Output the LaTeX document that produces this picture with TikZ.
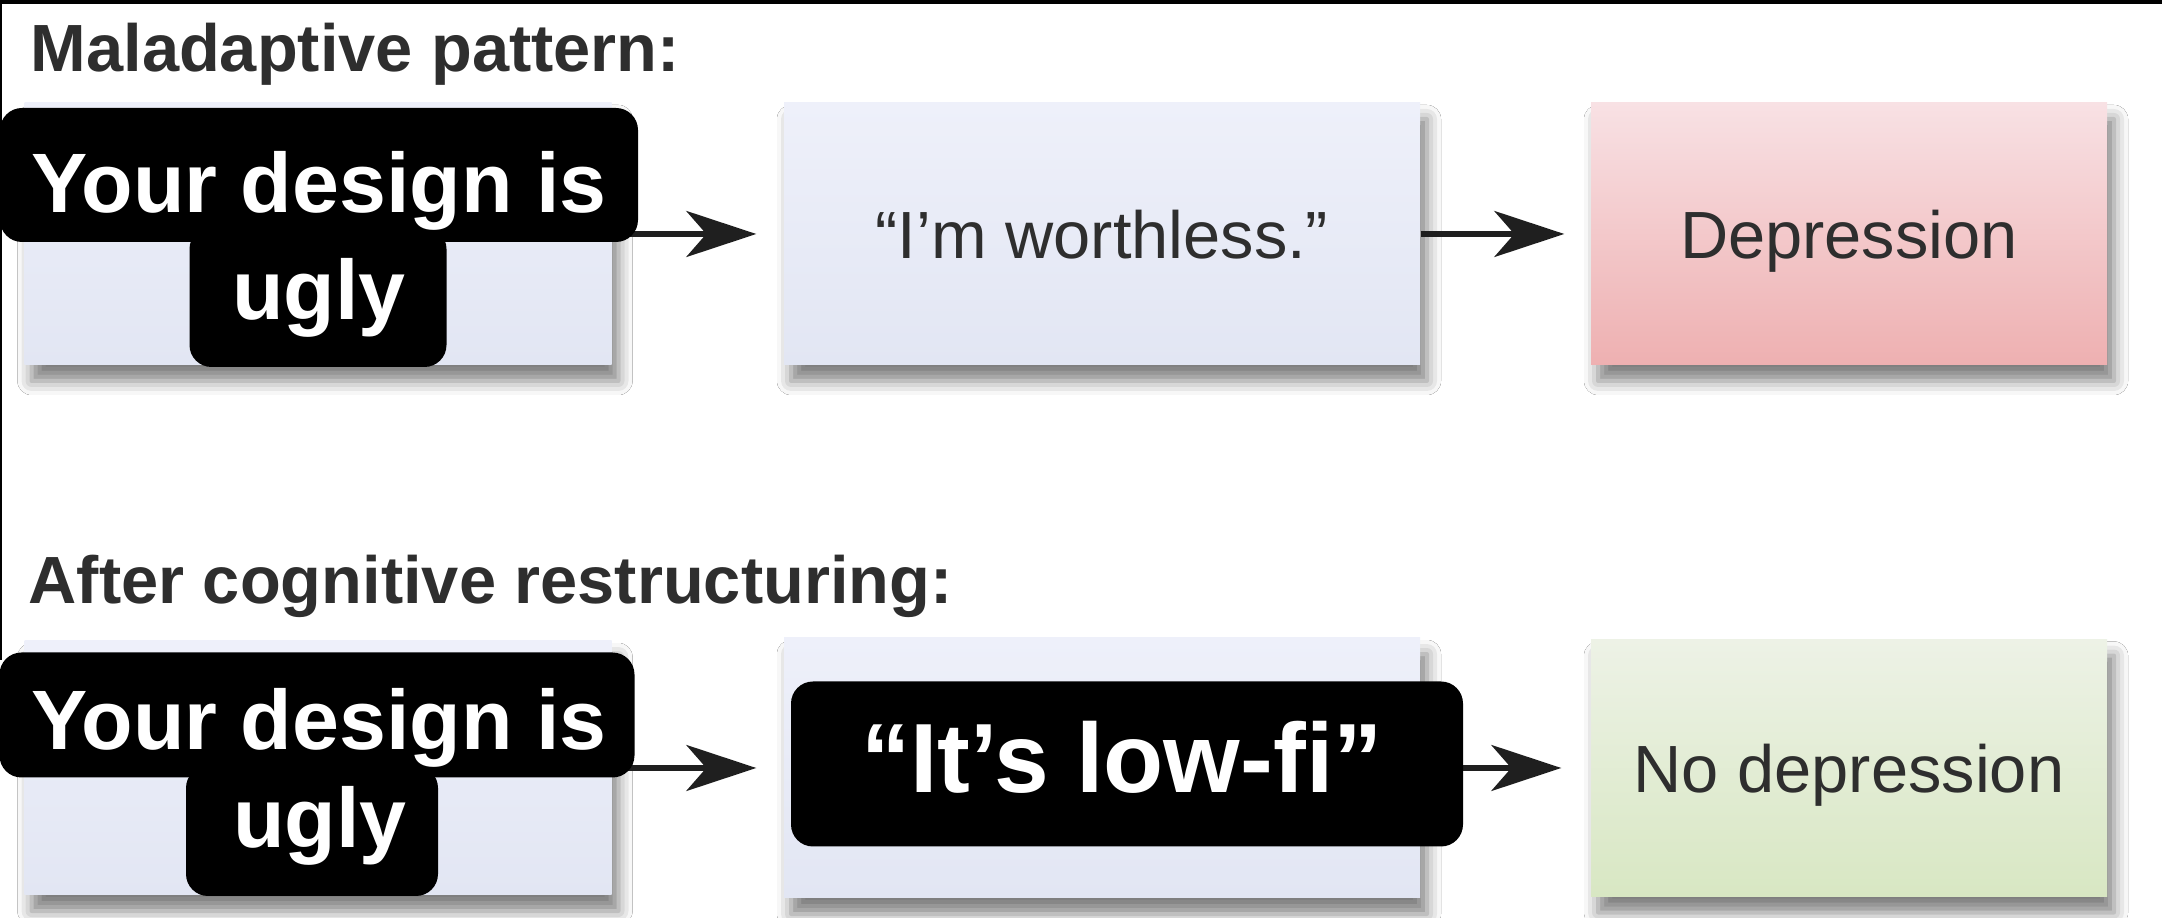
\documentclass[tikz,border=0pt]{standalone}
\usepackage{fontspec}
\setmainfont{Liberation Sans}
\usetikzlibrary{arrows.meta,shadows.blur}
\definecolor{ink}{HTML}{2E2E2E}
\definecolor{paleblue}{HTML}{EEF0FA}
\definecolor{paleblue2}{HTML}{E2E6F3}
\definecolor{rosetop}{HTML}{F8E1E4}
\definecolor{rosebot}{HTML}{EEB0B1}
\definecolor{sagetop}{HTML}{EDF2E6}
\definecolor{sagebot}{HTML}{D8E7C3}
\begin{document}
\begin{tikzpicture}[x=0.1mm,y=-0.1mm,line width=0.4pt,
  box/.style={rectangle,inner sep=0pt,minimum height=26.2mm,text=ink,
    text height=13.9pt,text depth=0pt,font=\fontsize{19}{22}\selectfont,
    blur shadow={shadow xshift=0.7mm,shadow yshift=-1.6mm,shadow blur radius=1.4mm,shadow opacity=50}},
  plain/.style={box,top color=paleblue,bottom color=paleblue2},
  rose/.style={box,top color=rosetop,bottom color=rosebot},
  sage/.style={box,top color=sagetop,bottom color=sagebot},
  tag/.style={fill=black,rounded corners=2.2mm,inner sep=0pt},
  meme/.style={text=white,inner sep=0pt,anchor=base,font=\bfseries\fontsize{24}{28}\selectfont},
  head/.style={text=ink,inner sep=0pt,anchor=base west,font=\bfseries\fontsize{19}{22}\selectfont},
  arr/.style={draw=black!88,line width=1.5pt,-{Stealth[length=7mm,width=4.6mm,inset=2mm]}}]
\fill[white] (0,0) rectangle (2162,918);
\useasboundingbox (0,0) rectangle (2162,918);
\fill (0,0) rectangle (2162,4);
\fill (0,0) rectangle (2,660);
\node[head] (h1) at (30,72) {Maladaptive pattern:};
\node[head] (h2) at (28,604) {After cognitive restructuring:};
\node[plain,minimum width=58.7mm] (a1) at (318,234) {};
\node[plain,minimum width=63.6mm] (b1) at (1102,234) {“I’m worthless.”};
\node[rose,minimum width=51.6mm] (c1) at (1849,234) {Depression};
\node[plain,minimum width=58.7mm,minimum height=25.4mm] (a2) at (318,768) {};
\node[plain,minimum width=63.6mm,minimum height=26mm] (b2) at (1102,768) {};
\node[sage,minimum width=51.6mm,minimum height=25.7mm] (c2) at (1849,768) {No depression};
\draw[arr,shorten >=2.7mm] (a1) -- (b1);
\draw[arr,shorten >=2.6mm] (b1) -- (c1);
\draw[arr,shorten >=2.7mm] (a2) -- (b2);
\draw[arr,shorten >=2.9mm] (b2) -- (c2);
\node[tag,minimum width=63.8mm,minimum height=13.4mm] (y1) at (319,175) {};
\node[tag,minimum width=25.7mm,minimum height=14mm] (u1) at (318,297) {};
\node[meme] (y1t) at (319,213) {Your design is};
\node[meme] (u1t) at (319,320) {ugly};
\node[tag,minimum width=63.5mm,minimum height=12.5mm] (y2) at (317,715) {};
\node[tag,minimum width=25.2mm,minimum height=13mm] (u2) at (312,831) {};
\node[meme] (y2t) at (319,750) {Your design is};
\node[meme] (u2t) at (320,848) {ugly};
\node[tag,minimum width=67.2mm,minimum height=16.5mm] (lf) at (1127,764) {};
\node[meme,font=\bfseries\fontsize{28}{32}\selectfont] (lft) at (1122,793) {“It’s low-fi”};
\end{tikzpicture}
\end{document}
